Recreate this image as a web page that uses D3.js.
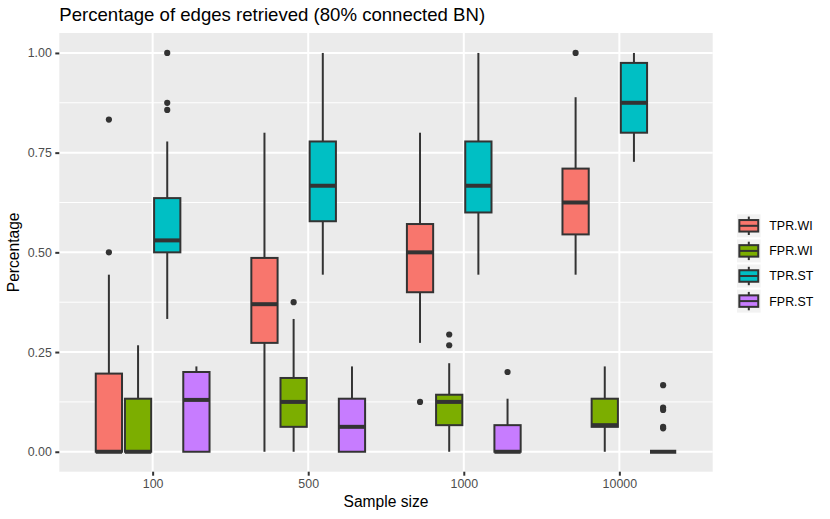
<!DOCTYPE html>
<html>
<head>
<meta charset="utf-8">
<script src="https://cdn.jsdelivr.net/npm/d3@7"></script>
<style>
  body { margin: 0; background: #fff; }
  svg { display: block; font-family: "Liberation Sans", Arial, sans-serif; }
</style>
</head>
<body>
<svg id="chart" width="830" height="519"></svg>
<script>
// categories
const sampleSizes = ["100", "500", "1000", "10000"];
const measures = ["TPR.WI", "FPR.WI", "TPR.ST", "FPR.ST"];
const yTicks = [0, 0.25, 0.5, 0.75, 1];
const yMinor = [0.125, 0.375, 0.625, 0.875];

// box stats per sample size: [lower whisker, q1, median, q3, upper whisker]
const tprWI = [[0, 0, 0, 0.196, 0.444], [0, 0.273, 0.37, 0.486, 0.8], [0.273, 0.4, 0.5, 0.571, 0.8], [0.444, 0.545, 0.625, 0.71, 0.889]];
const fprWI = [[0, 0, 0, 0.133, 0.267], [0, 0.0625, 0.125, 0.185, 0.333], [0, 0.0667, 0.125, 0.143, 0.222], [0, 0.0625, 0.0667, 0.133, 0.214]];
const tprST = [[0.333, 0.5, 0.53, 0.636, 0.778], [0.444, 0.578, 0.667, 0.778, 1.0], [0.444, 0.6, 0.667, 0.778, 1.0], [0.727, 0.8, 0.875, 0.975, 1.0]];
const fprST = [[0, 0, 0.13, 0.2, 0.214], [0, 0, 0.0625, 0.133, 0.214], [0, 0, 0, 0.0667, 0.133], [0, 0, 0, 0, 0]];

// outliers per sample size
const tprWIOut = [[0.833, 0.5], [], [0.125], [1.0]];
const fprWIOut = [[], [0.375], [0.294, 0.267], []];
const tprSTOut = [[1.0, 0.875, 0.857], [], [], []];
const fprSTOut = [[], [], [0.2], [0.167, 0.111, 0.105, 0.0625, 0.0588]];

const statsByMeasure = [tprWI, fprWI, tprST, fprST];
const outByMeasure = [tprWIOut, fprWIOut, tprSTOut, fprSTOut];

const boxes = [];
const outliers = [];
measures.forEach((m, mi) => {
    sampleSizes.forEach((s, si) => {
        const st = statsByMeasure[mi][si];
        boxes.push({ size: s, measure: m, lo: st[0], q1: st[1], med: st[2], q3: st[3], hi: st[4] });
        outByMeasure[mi][si].forEach(v => outliers.push({ size: s, measure: m, value: v }));
    });
});

const svg = d3.select("#chart"),
    margin = { top: 33, right: 117.3, bottom: 47.3, left: 59.3 },
    width = 830 - margin.left - margin.right,
    height = 519 - margin.top - margin.bottom,
    chart = svg.append("g").attr("transform", `translate(${margin.left},${margin.top})`);

const x = d3.scalePoint().domain(sampleSizes).range([0, width]).padding(0.6);
const dodge = d3.scaleBand().domain(measures)
    .range([-x.step() * 0.375, x.step() * 0.375]);
const boxW = dodge.bandwidth() * 0.9;

const y = d3.scaleLinear().domain([-0.05, 1.05]).range([height, 0]);

const color = d3.scaleOrdinal().domain(measures)
    .range(["#F8766D", "#7CAE00", "#00BFC4", "#C77CFF"]);

const ink = "#333333";
const lw = 2.0;

// panel
chart.append("rect")
    .attr("width", width).attr("height", height)
    .attr("fill", "#EBEBEB");

chart.append("g").selectAll("line")
    .data(yMinor).enter().append("line")
    .attr("x1", 0).attr("x2", width)
    .attr("y1", d => y(d)).attr("y2", d => y(d))
    .attr("stroke", "#fff").attr("stroke-width", lw / 2);

chart.append("g").selectAll("line")
    .data(yTicks).enter().append("line")
    .attr("x1", 0).attr("x2", width)
    .attr("y1", d => y(d)).attr("y2", d => y(d))
    .attr("stroke", "#fff").attr("stroke-width", lw);

chart.append("g").selectAll("line")
    .data(sampleSizes).enter().append("line")
    .attr("y1", 0).attr("y2", height)
    .attr("x1", d => x(d)).attr("x2", d => x(d))
    .attr("stroke", "#fff").attr("stroke-width", lw);

// axes
const xAxis = d3.axisBottom(x).tickSize(4).tickPadding(3.8);
const yAxis = d3.axisLeft(y).tickValues(yTicks).tickFormat(d3.format(".2f")).tickSize(4).tickPadding(3.5);

chart.append("g")
    .attr("transform", `translate(0,${height})`)
    .call(xAxis)
    .call(g => g.select(".domain").remove())
    .call(g => g.selectAll("line").attr("stroke", ink).attr("stroke-width", lw))
    .call(g => g.selectAll("text")
        .style("fill", "#4D4D4D")
        .style("font-family", "'Liberation Sans', Arial, sans-serif")
        .style("font-size", "12.4px"));

chart.append("g")
    .call(yAxis)
    .call(g => g.select(".domain").remove())
    .call(g => g.selectAll("line").attr("stroke", ink).attr("stroke-width", lw))
    .call(g => g.selectAll("text")
        .style("fill", "#4D4D4D")
        .style("font-family", "'Liberation Sans', Arial, sans-serif")
        .style("font-size", "12.4px"));

// boxes
const cx = d => x(d.size) + dodge(d.measure) + dodge.bandwidth() / 2;

const bg = chart.append("g").selectAll("g")
    .data(boxes).enter().append("g");

bg.append("line")
    .attr("x1", cx).attr("x2", cx)
    .attr("y1", d => y(d.hi)).attr("y2", d => y(d.q3))
    .attr("stroke", ink).attr("stroke-width", lw);

bg.append("line")
    .attr("x1", cx).attr("x2", cx)
    .attr("y1", d => y(d.q1)).attr("y2", d => y(d.lo))
    .attr("stroke", ink).attr("stroke-width", lw);

bg.append("rect")
    .attr("x", d => cx(d) - boxW / 2)
    .attr("width", boxW)
    .attr("y", d => y(d.q3))
    .attr("height", d => y(d.q1) - y(d.q3))
    .attr("fill", d => color(d.measure))
    .attr("stroke", ink).attr("stroke-width", lw);

bg.append("line")
    .attr("x1", d => cx(d) - boxW / 2).attr("x2", d => cx(d) + boxW / 2)
    .attr("y1", d => y(d.med)).attr("y2", d => y(d.med))
    .attr("stroke", ink).attr("stroke-width", lw * 2);

chart.append("g").selectAll("circle")
    .data(outliers).enter().append("circle")
    .attr("cx", cx)
    .attr("cy", d => y(d.value))
    .attr("r", 3.1)
    .attr("fill", ink);

// titles
svg.append("text")
    .attr("x", margin.left)
    .attr("y", 21)
    .style("font-size", "18.6px")
    .style("fill", "#000")
    .text("Percentage of edges retrieved (80% connected BN)");

svg.append("text")
    .attr("text-anchor", "middle")
    .attr("x", margin.left + width / 2)
    .attr("y", 507)
    .style("font-size", "15.6px")
    .style("fill", "#000")
    .text("Sample size");

svg.append("text")
    .attr("text-anchor", "middle")
    .attr("transform", `translate(19,${margin.top + height / 2}) rotate(-90)`)
    .style("font-size", "15.6px")
    .style("fill", "#000")
    .text("Percentage");

// legend
const keyW = 23.6, keyH = 23, keyGap = 25.1;
const legend = svg.append("g").attr("transform", "translate(737,214.3)");
const items = legend.selectAll("g")
    .data(measures).enter().append("g")
    .attr("transform", (d, i) => `translate(0,${i * keyGap})`);

items.append("rect")
    .attr("width", keyW).attr("height", keyH)
    .attr("fill", "#F2F2F2");

items.append("line")
    .attr("x1", keyW / 2).attr("x2", keyW / 2)
    .attr("y1", keyH * 0.1).attr("y2", keyH * 0.9)
    .attr("stroke", ink).attr("stroke-width", lw);

items.append("rect")
    .attr("x", keyW * 0.1).attr("width", keyW * 0.8)
    .attr("y", keyH * 0.25).attr("height", keyH * 0.5)
    .attr("fill", d => color(d))
    .attr("stroke", ink).attr("stroke-width", lw);

items.append("line")
    .attr("x1", keyW * 0.1).attr("x2", keyW * 0.9)
    .attr("y1", keyH / 2).attr("y2", keyH / 2)
    .attr("stroke", ink).attr("stroke-width", lw);

items.append("text")
    .attr("x", 32.3)
    .attr("y", keyH / 2)
    .attr("dy", "0.36em")
    .style("font-size", "12.4px")
    .style("fill", "#000")
    .text(d => d);
</script>
</body>
</html>
